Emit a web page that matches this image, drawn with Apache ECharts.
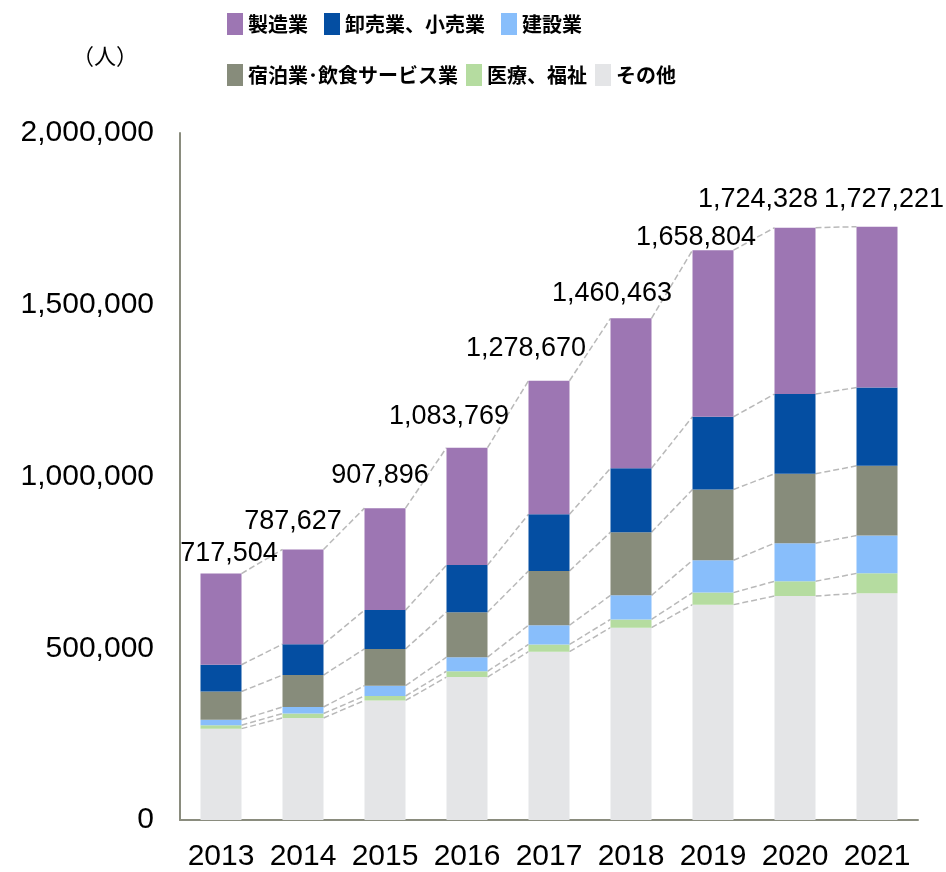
<!DOCTYPE html>
<html>
<head>
<meta charset="utf-8">
<script src="https://cdn.jsdelivr.net/npm/echarts@6/dist/echarts.min.js"></script>
<style>
  html, body { margin: 0; padding: 0; background: #fff; }
  #chart { width: 946px; height: 872px; }
</style>
</head>
<body>
<div id="chart"></div>
<script>
// 年
const years = ['2013', '2014', '2015', '2016', '2017', '2018', '2019', '2020', '2021']

// 産業別（人） 下から順に積み上げ
const otherData = [266000, 297000, 348000, 416000, 490000, 560000, 627000, 652000, 660000]
const medicalData = [10000, 13000, 13000, 17000, 21000, 24000, 35000, 43000, 58000]
const constructionData = [16000, 19000, 30000, 41000, 56000, 70000, 94000, 111000, 110000]
const hospitalityData = [82000, 93000, 107000, 131000, 158000, 184000, 206000, 202000, 203000]
const wholesaleData = [78000, 90000, 113000, 137000, 165000, 186000, 212000, 232000, 228000]
const manufacturingData = [265500, 275600, 296900, 341800, 388700, 436500, 484800, 484300, 468200]

// 合計ラベル
const totals = [717504, 787627, 907896, 1083769, 1278670, 1460463, 1658804, 1724328, 1727221]

// 合計ラベルの位置ずらし（棒の中央上端から）
const totalLabelShift = [
  [8, -20], [-10, -28], [-5, -33], [-18, -31], [-23, -32],
  [-19, -25], [-17, -13], [-37, -28], [7, -27]
]

const yTicks = { min: 0, max: 2000000, interval: 500000 }

const stackSeries = [
  { name: 'その他', data: otherData, color: '#e4e5e7' },
  { name: '医療、福祉', data: medicalData, color: '#b5dca0' },
  { name: '建設業', data: constructionData, color: '#88befb' },
  { name: '宿泊業･飲食サービス業', data: hospitalityData, color: '#878c7b' },
  { name: '卸売業、小売業', data: wholesaleData, color: '#044ea2' },
  { name: '製造業', data: manufacturingData, color: '#9d76b3' }
]

const chart = echarts.init(document.getElementById('chart'))

// 積み上げ境界の累積値
const levels = []
let running = years.map(() => 0)
stackSeries.forEach(s => {
  running = running.map((v, i) => v + s.data[i])
  levels.push(running.slice())
})

// 棒同士をつなぐ破線
const connectorSeries = levels.map((cum, k) => ({
  type: 'custom',
  name: 'link' + k,
  silent: true,
  z: 1,
  data: years.slice(0, -1).map((y, i) => [i, cum[i], cum[i + 1]]),
  encode: { x: 0, y: 1 },
  renderItem: (params, api) => {
    const i = api.value(0)
    const a = api.coord([i, api.value(1)])
    const b = api.coord([i + 1, api.value(2)])
    const hw = api.size([1, 0])[0] * 0.25
    return {
      type: 'line',
      shape: { x1: a[0] + hw, y1: a[1], x2: b[0] - hw, y2: b[1] },
      style: { stroke: '#b9b9b9', lineWidth: 1.5, lineDash: [6, 3] }
    }
  }
}))

const barSeries = stackSeries.map((s, idx) => {
  const isTop = idx === stackSeries.length - 1
  return {
    name: s.name,
    type: 'bar',
    stack: 'total',
    barWidth: '50%',
    itemStyle: { color: s.color },
    z: 2,
    data: s.data.map((v, i) => {
      if (!isTop) return v
      return {
        value: v,
        label: {
          show: true,
          position: ['50%', 0],
          align: 'center',
          verticalAlign: 'middle',
          offset: totalLabelShift[i],
          formatter: () => totals[i].toLocaleString('en-US'),
          fontFamily: 'Liberation Sans, Arial, sans-serif',
          fontSize: 27,
          color: '#000'
        }
      }
    })
  }
})

const legendText = {
  fontFamily: 'Noto Sans CJK JP',
  fontSize: 20,
  fontWeight: 'bold',
  color: '#000'
}

const option = {
  animation: false,
  backgroundColor: '#fff',
  grid: { left: 180, right: 28, top: 133, bottom: 49 },
  legend: [
    {
      data: ['製造業', '卸売業、小売業', '建設業'],
      left: 227,
      top: 13,
      padding: 0,
      itemWidth: 16,
      itemHeight: 22,
      itemGap: 16,
      icon: 'rect',
      textStyle: legendText
    },
    {
      data: ['宿泊業･飲食サービス業', '医療、福祉', 'その他'],
      left: 227,
      top: 64,
      padding: 0,
      itemWidth: 16,
      itemHeight: 22,
      itemGap: 8,
      icon: 'rect',
      textStyle: legendText
    }
  ],
  graphic: [
    {
      type: 'text',
      left: 72,
      top: 45,
      style: {
        text: '（人）',
        font: '22px "Noto Sans CJK JP"',
        fill: '#000'
      }
    }
  ],
  xAxis: {
    type: 'category',
    data: years,
    axisLine: { lineStyle: { color: '#8a8c7e', width: 2 } },
    axisTick: { show: false },
    axisLabel: {
      interval: 0,
      margin: 22,
      fontFamily: 'Liberation Sans, Arial, sans-serif',
      fontSize: 30,
      color: '#000'
    }
  },
  yAxis: {
    type: 'value',
    min: yTicks.min,
    max: yTicks.max,
    interval: yTicks.interval,
    axisLine: { show: true, lineStyle: { color: '#8a8c7e', width: 2 } },
    axisTick: { show: false },
    splitLine: { show: false },
    axisLabel: {
      margin: 26,
      fontFamily: 'Liberation Sans, Arial, sans-serif',
      fontSize: 30,
      color: '#000',
      formatter: v => v.toLocaleString('en-US')
    }
  },
  series: [...barSeries, ...connectorSeries]
}

chart.setOption(option)
</script>
</body>
</html>
